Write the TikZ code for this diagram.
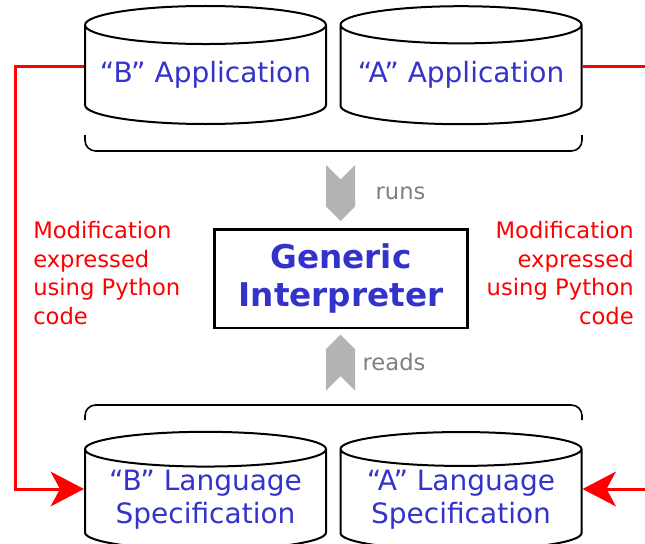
\documentclass[tikz,border=0pt]{standalone}
\usepackage{fontspec}
\setmainfont{DejaVu Sans}
\usetikzlibrary{arrows.meta,positioning,shapes.geometric,shapes.symbols}
\definecolor{specblue}{RGB}{51,51,204}
\definecolor{chevgray}{RGB}{179,179,179}
\definecolor{notegray}{RGB}{128,128,128}
\begin{document}
\begin{tikzpicture}[
  x=0.75pt, y=-0.75pt,
  store/.style={draw, line width=1.5pt, cylinder, shape border rotate=90,
      aspect=0.18, minimum width=180.75pt, minimum height=88.5pt,
      text=specblue, align=center, inner sep=0pt,
      font=\fontsize{21}{25}\selectfont},
  interp/.style={draw, line width=2pt, minimum width=190pt,
      minimum height=74pt, align=center, text=specblue,
      font=\fontsize{24.5}{29}\bfseries\selectfont},
  chevron/.style={signal, fill=chevgray, draw=none, inner sep=0pt,
      minimum width=21.75pt, minimum height=20.25pt},
  verb/.style={text=notegray, font=\fontsize{17}{20}\selectfont},
  note/.style={text=red, inner sep=0pt, font=\fontsize{17}{21.4}\selectfont},
  brace/.style={line width=1.2pt, rounded corners=8pt},
  modline/.style={draw=red, line width=2.25pt,
      -{Stealth[length=25pt, width=26pt, inset=7pt]}}
]
\useasboundingbox (0,0) rectangle (645,543);
% applications
\node[store] (bapp) at (205.5,75) {``B'' Application};
\node[store] (aapp) at (461,75) {``A'' Application};
\draw[brace] (85,135) -- (85,151) -- (582,151) -- (582,135);
% interpreter
\node[chevron, signal to=south, signal from=north] (runs) at (340.5,193) {};
\node[verb, right=11.75pt of runs] {runs};
\node[interp] (gi) at (341,278.5) {Generic\\Interpreter};
\node[chevron, signal to=north, signal from=south] (reads) at (340.5,362.5) {};
\node[verb, right=2pt of reads] {reads};
% specifications
\draw[brace] (85,420) -- (85,405) -- (582,405) -- (582,420);
\node[store] (blang) at (205.5,500) {``B'' Language\\Specification};
\node[store] (alang) at (461,500) {``A'' Language\\Specification};
% modifications
\node[note, align=left, anchor=west] (bnote) at (33,273) {Modification\\expressed\\using Python\\code};
\node[note, align=right, anchor=east] (anote) at (634,273) {Modification\\expressed\\using Python\\code};
\coordinate (lft) at (15,270);
\coordinate (rgt) at (645,270);
\draw[modline] ([yshift=6.75pt]bapp.west) -| (lft) |- ([yshift=8.25pt]blang.west);
\draw[draw=red, line width=2.25pt] ([yshift=6.75pt]aapp.east) -- ([yshift=6.75pt]aapp.east -| rgt);
\draw[modline] ([yshift=8.25pt]alang.east -| rgt) -- ([yshift=8.25pt]alang.east);
\end{tikzpicture}
\end{document}
